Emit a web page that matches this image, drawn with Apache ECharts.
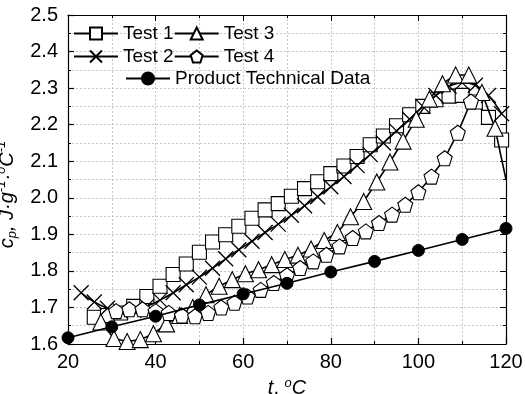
<!DOCTYPE html>
<html><head><meta charset="utf-8">
<script src="https://cdn.jsdelivr.net/npm/echarts@6/dist/echarts.min.js"></script>
<style>html,body{margin:0;padding:0;background:#fff}#c{width:525px;height:394px}</style>
</head><body><div id="c"></div>
<script>
var test1X = [26,29,32,35,38,41,44,47,50,53,56,59,62,65,68,71,74,77,80,83,86,89,92,95,98,101,104,107,110,113,116,119];
var test1Y = [1.673,1.678,1.685,1.703,1.730,1.758,1.790,1.819,1.851,1.879,1.899,1.922,1.944,1.967,1.984,2.004,2.025,2.044,2.066,2.087,2.113,2.145,2.169,2.197,2.227,2.250,2.268,2.278,2.280,2.262,2.220,2.158];
var test2X = [23,26,29,32,35,38,41,44,47,50,53,56,59,62,65,68,71,74,77,80,83,86,89,92,95,98,101,104,107,110,113,116,119];
var test2Y = [1.740,1.715,1.698,1.690,1.692,1.703,1.720,1.740,1.762,1.783,1.807,1.833,1.858,1.881,1.905,1.928,1.952,1.978,2.003,2.030,2.058,2.088,2.118,2.150,2.183,2.215,2.250,2.280,2.305,2.315,2.308,2.280,2.230];
var test3X = [27.5,30.5,33.5,36.5,39.5,42.5,45.5,48.5,51.5,54.5,57.5,60.5,63.5,66.5,69.5,72.5,75.5,78.5,81.5,84.5,87.5,90.5,93.5,96.5,99.5,102.5,105.5,108.5,111.5,114.5,117.5];
var test3Y = [1.660,1.615,1.607,1.612,1.628,1.655,1.678,1.700,1.735,1.758,1.776,1.792,1.803,1.817,1.831,1.843,1.860,1.883,1.905,1.948,1.990,2.043,2.098,2.155,2.215,2.270,2.312,2.336,2.336,2.288,2.190];
var test3EndX = 120, test3EndY = 2.05;
var test4X = [31,34,37,40,43,46,49,52,55,58,61,64,67,70,73,76,79,82,85,88,91,94,97,100,103,106,109,112];
var test4Y = [1.690,1.695,1.695,1.690,1.685,1.678,1.676,1.685,1.700,1.713,1.730,1.748,1.767,1.788,1.808,1.826,1.844,1.867,1.890,1.908,1.931,1.954,1.981,2.015,2.058,2.108,2.178,2.263];
var prodX = [20,30,40,50,60,70,80,90,100,110,120];
var prodY = [1.617,1.647,1.676,1.707,1.737,1.766,1.797,1.826,1.856,1.886,1.916];
var xTicks = [20,40,60,80,100,120];
var yTicks = [1.6,1.7,1.8,1.9,2.0,2.1,2.2,2.3,2.4,2.5];

function pairs(xs, ys){ return xs.map(function(x,i){return [x, ys[i]];}); }
var t3 = pairs(test3X, test3Y); t3.push({value:[test3EndX, test3EndY], symbol:'none'});

var FONT = 'Liberation Sans, Arial, sans-serif';
var PENT = 'path://M50,0 L97.55,34.55 L79.39,90.45 L20.61,90.45 L2.45,34.55 Z';
var CROSS = 'path://M0,0L10,10M10,0L0,10';
var grey = {color:'#c8c8c8', type:[2,2], width:1};

function ser(name, data, symbol, size, extra){
  var s = {name:name, type:'line', data:data, symbol:symbol, symbolSize:size,
    showAllSymbol:true,
    lineStyle:{color:'#000', width:1.6},
    itemStyle:{color:'#fff', borderColor:'#000', borderWidth:1.1},
    emphasis:{disabled:true}, animation:false};
  for (var k in extra) s[k]=extra[k];
  return s;
}

var chart = echarts.init(document.getElementById('c'), null, {renderer:'canvas'});
var legendBase = {orient:'horizontal', itemWidth:44, itemHeight:15, itemGap:0,
  textStyle:{fontFamily:FONT, fontSize:19, color:'#000'}, selectedMode:false};
chart.setOption({
  backgroundColor:'#fff',
  animation:false,
  grid:{left:68, right:19, top:15, bottom:50, containLabel:false, outerBoundsMode:'none'},
  legend:[
    Object.assign({}, legendBase, {data:['Test 1','Test 3'], left:68, top:19}),
    Object.assign({}, legendBase, {data:['Test 2','Test 4'], left:68, top:42}),
    Object.assign({}, legendBase, {data:['Product Technical Data'], left:120, top:64})
  ],
  xAxis:[{
    type:'value', min:20, max:120, interval:20,
    name:'{i|t}{n|, }{sup|o}{i|C}', nameLocation:'middle', nameGap:28,
    nameTextStyle:{rich:{
      i:{fontFamily:FONT, fontSize:20, fontStyle:'italic', color:'#000', verticalAlign:'bottom', lineHeight:22},
      n:{fontFamily:FONT, fontSize:20, color:'#000', verticalAlign:'bottom', lineHeight:22},
      sup:{fontFamily:FONT, fontSize:13, fontStyle:'italic', color:'#000', verticalAlign:'top', lineHeight:22}}},
    axisLine:{lineStyle:{color:'#000', width:1.2}},
    axisTick:{inside:true, length:6, lineStyle:{color:'#000', width:1.2}},
    minorTick:{show:true, splitNumber:2, length:3, lineStyle:{color:'#000'}},
    axisLabel:{fontFamily:FONT, fontSize:20, color:'#000', margin:8},
    splitLine:{show:true, lineStyle:grey},
    minorSplitLine:{show:true, lineStyle:grey}
  },{
    type:'value', position:'top', min:20, max:120, interval:20,
    axisLine:{lineStyle:{color:'#000', width:1.2}},
    axisTick:{inside:true, length:6, lineStyle:{color:'#000'}},
    minorTick:{show:true, splitNumber:2, length:3, lineStyle:{color:'#000'}},
    axisLabel:{show:false}, splitLine:{show:false}
  }],
  yAxis:[{
    type:'value', min:1.6, max:2.5, interval:0.1,
    name:'{i|c}{sub|p}{i|, J·g}{sup|-1}{i|·}{sup|o}{i|C}{sup|-1}',
    nameLocation:'middle', nameGap:40, nameRotate:90,
    nameTextStyle:{padding:[0,30,0,0], rich:{
      i:{fontFamily:FONT, fontSize:20, fontStyle:'italic', color:'#000', verticalAlign:'middle', lineHeight:24},
      sub:{fontFamily:FONT, fontSize:13, fontStyle:'italic', color:'#000', verticalAlign:'bottom', lineHeight:24},
      sup:{fontFamily:FONT, fontSize:13, fontStyle:'italic', color:'#000', verticalAlign:'top', lineHeight:24}}},
    axisLine:{lineStyle:{color:'#000', width:1.2}},
    axisTick:{inside:true, length:6, lineStyle:{color:'#000', width:1.2}},
    minorTick:{show:true, splitNumber:2, length:3, lineStyle:{color:'#000'}},
    axisLabel:{fontFamily:FONT, fontSize:20, color:'#000', margin:10,
      formatter:function(v){return v.toFixed(1);}},
    splitLine:{show:true, lineStyle:grey},
    minorSplitLine:{show:true, lineStyle:grey}
  },{
    type:'value', position:'right', min:1.6, max:2.5, interval:0.1,
    axisLine:{show:true, lineStyle:{color:'#000', width:1.2}},
    axisTick:{show:true, inside:true, length:6, lineStyle:{color:'#000'}},
    minorTick:{show:true, splitNumber:2, length:3, lineStyle:{color:'#000'}},
    axisLabel:{show:false}, splitLine:{show:false}
  }],
  series:[
    ser('Test 1', pairs(test1X, test1Y), 'rect', 14, {z:2}),
    ser('Test 2', pairs(test2X, test2Y), CROSS, 15, {smooth:0.4, z:3,
      itemStyle:{color:'#fff', borderColor:'#000', borderWidth:1.3}}),
    ser('Test 3', t3, 'triangle', 16, {z:4}),
    ser('Test 4', pairs(test4X, test4Y), PENT, 15, {z:5}),
    ser('Product Technical Data', pairs(prodX, prodY), 'circle', 12,
      {z:6, itemStyle:{color:'#000', borderColor:'#000', borderWidth:1}})
  ]
});
</script></body></html>
